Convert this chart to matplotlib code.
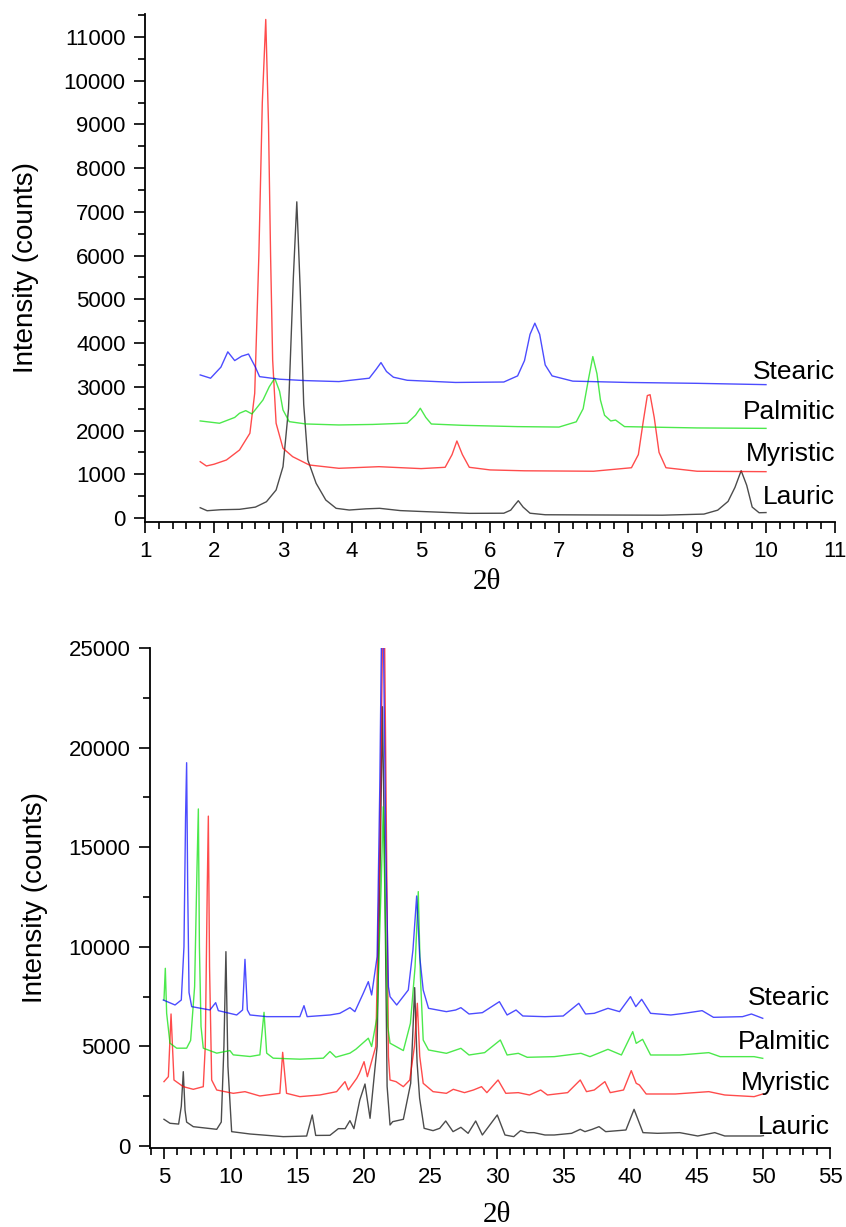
import numpy as np
import matplotlib
matplotlib.use('Agg')
import matplotlib.pyplot as plt
from matplotlib.ticker import MultipleLocator

plt.rcParams['font.family'] = ['Liberation Sans', 'DejaVu Sans']

names = ['Lauric', 'Myristic', 'Palmitic', 'Stearic']
colors = ['#000000', '#ff0000', '#00e000', '#0000ff']

# ---- small angle scan (top) ----
top_x_lauric = [1.8, 1.9, 2.1, 2.37, 2.6, 2.76, 2.9, 3.0, 3.08, 3.15, 3.2, 3.25, 3.3, 3.36, 3.48, 3.62,
                3.77, 3.96, 4.2, 4.4, 4.7, 5.0, 5.7, 6.2, 6.3, 6.36, 6.41, 6.48, 6.58, 6.8, 7.5, 8.5, 9.1,
                9.3, 9.45, 9.55, 9.64, 9.72, 9.8, 9.9, 10.0]
top_y_lauric = [236, 167, 190, 199, 250, 373, 641, 1174, 2500, 5500, 7230, 5200, 2600, 1327, 794, 412,
                222, 183, 210, 222, 170, 150, 107, 110, 180, 300, 396, 250, 110, 75, 70, 65, 90,
                180, 380, 700, 1082, 750, 250, 121, 125]

top_x_myristic = [1.8, 1.89, 2.0, 2.18, 2.37, 2.52, 2.59, 2.65, 2.70, 2.75, 2.79, 2.82, 2.85, 2.90, 3.0,
                  3.14, 3.38, 3.81, 4.39, 5.0, 5.35, 5.45, 5.52, 5.6, 5.7, 6.0, 6.5, 7.5, 8.05, 8.15,
                  8.22, 8.28, 8.32, 8.38, 8.45, 8.55, 9.0, 10.0]
top_y_myristic = [1288, 1190, 1230, 1327, 1556, 1938, 2853, 6000, 9500, 11400, 9000, 6000, 3615, 2167, 1595,
                  1403, 1213, 1137, 1174, 1130, 1160, 1450, 1762, 1450, 1160, 1100, 1080, 1070, 1150, 1450,
                  2200, 2800, 2820, 2300, 1500, 1150, 1070, 1060]

top_x_palmitic = [1.8, 2.08, 2.3, 2.37, 2.46, 2.55, 2.71, 2.8, 2.88, 2.95, 3.0, 3.09, 3.33, 3.81, 4.3,
                  4.8, 4.92, 4.99, 5.07, 5.15, 5.6, 6.4, 7.0, 7.25, 7.35, 7.43, 7.49, 7.55, 7.6, 7.66,
                  7.75, 7.82, 7.95, 9.0, 10.0]
top_y_palmitic = [2220, 2167, 2300, 2396, 2456, 2380, 2700, 3000, 3197, 2900, 2471, 2204, 2151, 2128, 2140,
                  2170, 2350, 2510, 2300, 2150, 2120, 2090, 2080, 2200, 2500, 3200, 3692, 3300, 2700, 2350,
                  2220, 2240, 2090, 2060, 2050]

top_x_stearic = [1.8, 1.95, 2.1, 2.2, 2.3, 2.4, 2.5, 2.6, 2.66, 2.95, 3.33, 3.81, 4.25, 4.35, 4.42, 4.5,
                 4.6, 4.8, 5.5, 6.2, 6.4, 6.5, 6.58, 6.65, 6.72, 6.8, 6.9, 7.2, 8.0, 9.0, 10.0]
top_y_stearic = [3272, 3197, 3450, 3800, 3600, 3700, 3750, 3450, 3233, 3174, 3142, 3120, 3197, 3400, 3554, 3350,
                 3220, 3150, 3100, 3110, 3250, 3600, 4200, 4455, 4200, 3500, 3250, 3130, 3100, 3080, 3050]

# ---- wide angle scan (bottom) ----
bot_x_lauric = [5.0, 5.45, 6.1, 6.3, 6.45, 6.58, 6.7, 7.2, 8.96, 9.3, 9.5, 9.65, 9.8, 10.08, 11.46, 13.96,
                15.71, 16.13, 16.39, 17.46, 18.09, 18.6, 18.96, 19.26, 19.7, 20.09, 20.47, 21.0, 21.25,
                21.4, 21.55, 21.75, 21.97, 22.17, 22.97, 23.52, 23.7, 23.82, 24.0, 24.19, 24.53, 25.2,
                25.7, 26.15, 26.7, 27.29, 27.83, 28.4, 28.9, 30.02, 30.6, 31.26, 31.77, 32.27, 32.78,
                33.6, 34.3, 35.6, 36.25, 36.6, 37.15, 37.66, 38.16, 39.68, 40.29, 40.96, 42.04, 43.72,
                45.07, 46.35, 47.1, 49.8, 50.0]
bot_y_lauric = [1340, 1140, 1100, 2000, 3730, 1800, 1200, 970, 837, 1200, 5000, 9755, 4000, 720, 602, 469,
                500, 1556, 530, 536, 870, 870, 1272, 870, 2310, 3112, 1389, 5000, 15000,
                22050, 15000, 3000, 1054, 1221, 1340, 3146, 6000, 7950, 4200, 2400, 887, 770,
                887, 1255, 720, 937, 636, 1255, 552, 1556, 552, 469, 770, 670, 670,
                552, 552, 636, 837, 720, 837, 971, 720, 803, 1841, 670, 636, 670,
                502, 670, 502, 502, 520]

bot_x_myristic = [5.0, 5.33, 5.53, 5.75, 6.45, 7.2, 7.95, 8.1, 8.25, 8.33, 8.42, 8.58, 8.96, 10.2, 11.08,
                  12.2, 13.7, 13.91, 14.2, 15.2, 16.7, 17.96, 18.59, 18.84, 19.47, 19.67, 20.02, 20.27,
                  20.9, 21.2, 21.5, 21.75, 21.85, 21.97, 22.42, 22.97, 23.45, 23.8, 24.02, 24.2, 24.46,
                  25.2, 26.2, 26.72, 27.56, 28.23, 28.84, 29.24, 30.08, 30.66, 31.6, 32.44, 33.28, 33.79,
                  35.3, 36.25, 36.72, 37.3, 38.1, 38.5, 39.5, 40.08, 40.45, 40.69, 41.2, 43.38, 45.9,
                  47.1, 49.3, 49.95]
bot_y_myristic = [3230, 3480, 6627, 3312, 2978, 2845, 2978, 5000, 13000, 16560, 9000, 3312, 2811, 2644, 2727,
                  2510, 2644, 4702, 2644, 2477, 2561, 2727, 3230, 2811, 3397, 3648, 4233, 3480,
                  5000, 15000, 30000, 12000, 4500, 3312, 3230, 2978, 3313, 5000, 7163, 4500, 3146,
                  2728, 2644, 2845, 2678, 2811, 2978, 2678, 3313, 2644, 2678, 2560, 2811, 2560,
                  2678, 3313, 2728, 2811, 3230, 2678, 2811, 3782, 3146, 3062, 2610, 2610, 2728,
                  2560, 2477, 2610]

bot_x_palmitic = [5.0, 5.1, 5.2, 5.45, 5.95, 6.7, 7.0, 7.3, 7.48, 7.58, 7.66, 7.78, 7.95, 8.96, 9.95, 10.2,
                  11.46, 12.2, 12.51, 12.71, 13.2, 15.2, 16.96, 17.46, 17.9, 18.96, 19.41, 20.34, 20.59,
                  21.0, 21.3, 21.46, 21.6, 21.8, 21.97, 22.97, 23.5, 23.85, 24.09, 24.25, 24.46, 24.86,
                  26.2, 27.29, 27.9, 29.07, 30.25, 30.76, 31.6, 32.27, 34.3, 36.3, 36.98, 38.33, 39.34,
                  40.19, 40.45, 40.93, 41.53, 43.72, 45.9, 46.75, 49.3, 49.95]
bot_y_palmitic = [7329, 8920, 6660, 5160, 4910, 4910, 5300, 8000, 14000, 16920, 10000, 6000, 4910, 4660, 4790, 4575,
                  4492, 4575, 6710, 4660, 4408, 4358, 4408, 4743, 4458, 4660, 4860, 5410, 4993,
                  6500, 13000, 17030, 12000, 6000, 5160, 4790, 6158, 9000, 12770, 8500, 5320, 4820,
                  4652, 4903, 4568, 4686, 5320, 4568, 4652, 4452, 4485, 4652, 4485, 4853, 4568,
                  5740, 5153, 5354, 4568, 4568, 4686, 4485, 4485, 4400]

bot_x_stearic = [4.95, 5.83, 6.3, 6.5, 6.62, 6.70, 6.78, 6.88, 7.08, 8.45, 8.88, 9.08, 10.46, 10.9, 11.08,
                 11.26, 11.46, 12.71, 15.2, 15.51, 15.75, 17.46, 18.2, 18.96, 19.33, 19.96, 20.34, 20.59,
                 21.0, 21.2, 21.4, 21.65, 21.85, 21.97, 22.47, 23.34, 23.69, 23.97, 24.2, 24.46, 24.86,
                 26.2, 26.9, 27.29, 27.9, 28.9, 30.18, 30.76, 31.43, 31.94, 33.6, 34.97, 36.14, 36.65,
                 37.3, 38.33, 39.2, 40.02, 40.42, 40.86, 41.53, 43.05, 44.06, 45.4, 46.25, 48.43, 49.1,
                 49.95]
bot_y_stearic = [7329, 7078, 7329, 10000, 16500, 19240, 13000, 7700, 6995, 6828, 7195, 6794, 6577, 6828, 9370,
                 6828, 6577, 6493, 6493, 7044, 6493, 6577, 6660, 6944, 6744, 7664, 8250, 7580,
                 9500, 18000, 30000, 15000, 8000, 7496, 7078, 7831, 9840, 12550, 9500, 7830, 6911,
                 6744, 6827, 6944, 6626, 6693, 7245, 6576, 6827, 6526, 6492, 6526, 7162, 6626,
                 6660, 6911, 6744, 7497, 6995, 7363, 6660, 6576, 6660, 6794, 6459, 6492, 6626,
                 6409]

top_label_y = [480, 1464, 2426, 3341]
bot_label_y = [950, 3160, 5220, 7430]

top_series = [(top_x_lauric, top_y_lauric), (top_x_myristic, top_y_myristic),
              (top_x_palmitic, top_y_palmitic), (top_x_stearic, top_y_stearic)]
bot_series = [(bot_x_lauric, bot_y_lauric), (bot_x_myristic, bot_y_myristic),
              (bot_x_palmitic, bot_y_palmitic), (bot_x_stearic, bot_y_stearic)]

fig = plt.figure(figsize=(8.46, 12.27), dpi=100)
ax1 = fig.add_axes([0.1714, 0.5746, 0.8156, 0.414])
ax2 = fig.add_axes([0.1773, 0.0644, 0.8038, 0.4075])

serif = ['Liberation Serif', 'DejaVu Serif']


def style(ax):
    for s in ['top', 'right']:
        ax.spines[s].set_visible(False)
    for s in ['left', 'bottom']:
        ax.spines[s].set_linewidth(1.3)
    ax.tick_params(which='major', direction='out', length=8, width=1.2, labelsize=16, pad=6)
    ax.tick_params(which='minor', direction='out', length=5, width=1.2)


for (x, y), c in zip(top_series, colors):
    ax1.plot(x, y, color=c, lw=1.0, alpha=0.7)
for name, ly in zip(names, top_label_y):
    ax1.text(11.0, ly, name, ha='right', va='center', fontsize=19)
ax1.set_xlim(1, 11)
ax1.set_ylim(-90, 11525)
ax1.xaxis.set_major_locator(MultipleLocator(1))
ax1.xaxis.set_minor_locator(MultipleLocator(0.2))
ax1.yaxis.set_major_locator(MultipleLocator(1000))
ax1.yaxis.set_minor_locator(MultipleLocator(500))
style(ax1)
ax1.set_ylabel('Intensity (counts)', fontsize=20)
ax1.yaxis.set_label_coords(-0.153, 0.5)
ax1.set_xlabel('2θ', fontsize=21, family=serif)
ax1.xaxis.set_label_coords(0.496, -0.092)

for (x, y), c in zip(bot_series, colors):
    ax2.plot(x, y, color=c, lw=1.0, alpha=0.7)
for name, ly in zip(names, bot_label_y):
    ax2.text(55.0, ly, name, ha='right', va='center', fontsize=19)
ax2.set_xlim(3.95, 55)
ax2.set_ylim(-100, 25000)
ax2.xaxis.set_major_locator(MultipleLocator(5))
ax2.xaxis.set_minor_locator(MultipleLocator(1))
ax2.yaxis.set_major_locator(MultipleLocator(5000))
ax2.yaxis.set_minor_locator(MultipleLocator(2500))
style(ax2)
ax2.set_ylabel('Intensity (counts)', fontsize=20)
ax2.yaxis.set_label_coords(-0.150, 0.5)
ax2.set_xlabel('2θ', fontsize=21, family=serif)
ax2.xaxis.set_label_coords(0.51, -0.108)

fig.savefig('out.png', dpi=100)
